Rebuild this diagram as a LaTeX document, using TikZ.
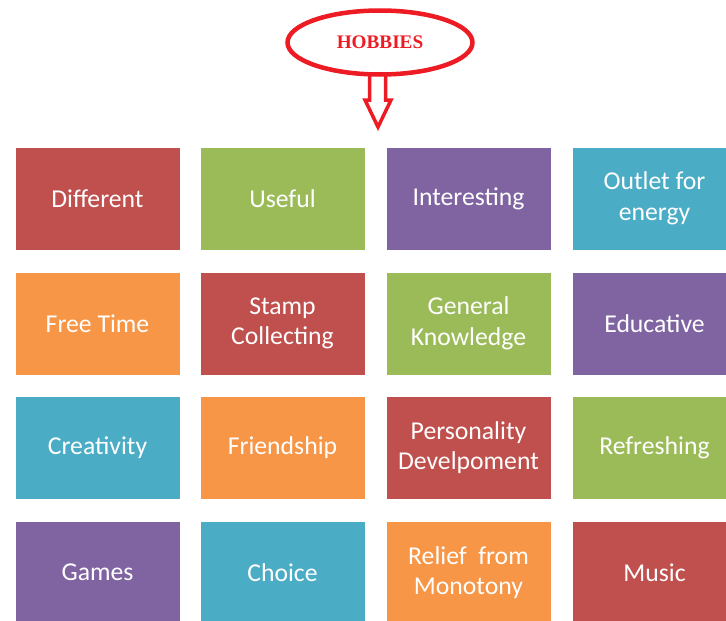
\documentclass[tikz,border=0pt]{standalone}
\usepackage{fontspec}
\usetikzlibrary{shapes.geometric}
\setmainfont{Carlito}
\newfontfamily\serifbold{Liberation Serif}
\definecolor{cred}{HTML}{C0504D}
\definecolor{cgreen}{HTML}{9BBB59}
\definecolor{cpurple}{HTML}{8064A2}
\definecolor{cteal}{HTML}{4BACC6}
\definecolor{corange}{HTML}{F79646}
\definecolor{hred}{HTML}{ED1C24}
\tikzset{
  tile/.style={rectangle, minimum width=165pt, minimum height=103pt, inner sep=0pt,
    draw=white, line width=0.6pt, text=white, align=center,
    font=\fontsize{25.7}{30.5}\selectfont},
  headline/.style={shape=ellipse, draw=hred, line width=4.5pt, minimum width=185pt, minimum height=64pt,
    inner sep=0pt, fill=white, text=hred, font=\serifbold\bfseries\fontsize{19.2}{20}\selectfont},
  hollowarrow/.style={draw=hred, line width=3.5pt, fill=white, line join=miter}
}
\begin{document}
\begin{tikzpicture}[x=1pt,y=-1pt]
\useasboundingbox (0,0) rectangle (726,621);
\clip (0,0) rectangle (726,621);
\fill[white] (0,0) rectangle (726,621);
% arrow
\coordinate (a1) at (369.5,76);
\coordinate (a2) at (369.5,100);
\coordinate (a3) at (365,100);
\coordinate (a4) at (378,127);
\coordinate (a5) at (391,100);
\coordinate (a6) at (385.5,100);
\coordinate (a7) at (385.5,76);
\draw[hollowarrow] (a1) -- (a2) -- (a3) -- (a4) -- (a5) -- (a6) -- (a7);
% heading
\node[headline] (hobbies) at (380,42.5) {HOBBIES};
% tiles
\node[tile, fill=cred]    (t11) at (97.5,198.5) {Different};
\node[tile, fill=cgreen]  (t12) at (282.5,198.5) {Useful};
\node[tile, fill=cpurple] (t13) at (468.5,198.5) {Interesting};
\node[tile, fill=cteal]   (t14) at (654.5,198.5) {Outlet for\\energy};
\node[tile, fill=corange] (t21) at (97.5,323.5) {Free Time};
\node[tile, fill=cred]    (t22) at (282.5,323.5) {Stamp\\Collecting};
\node[tile, fill=cgreen]  (t23) at (468.5,323.5) {General\\Knowledge};
\node[tile, fill=cpurple] (t24) at (654.5,323.5) {Educative};
\node[tile, fill=cteal]   (t31) at (97.5,447.5) {Creativity};
\node[tile, fill=corange] (t32) at (282.5,447.5) {Friendship};
\node[tile, fill=cred]    (t33) at (468.5,447.5) {Personality\\Develpoment};
\node[tile, fill=cgreen]  (t34) at (654.5,447.5) {Refreshing};
\node[tile, fill=cpurple] (t41) at (97.5,572.5) {Games};
\node[tile, fill=cteal]   (t42) at (282.5,572.5) {Choice};
\node[tile, fill=corange] (t43) at (468.5,572.5) {Relief\ \ from\\Monotony};
\node[tile, fill=cred]    (t44) at (654.5,572.5) {Music};
\end{tikzpicture}
\end{document}
